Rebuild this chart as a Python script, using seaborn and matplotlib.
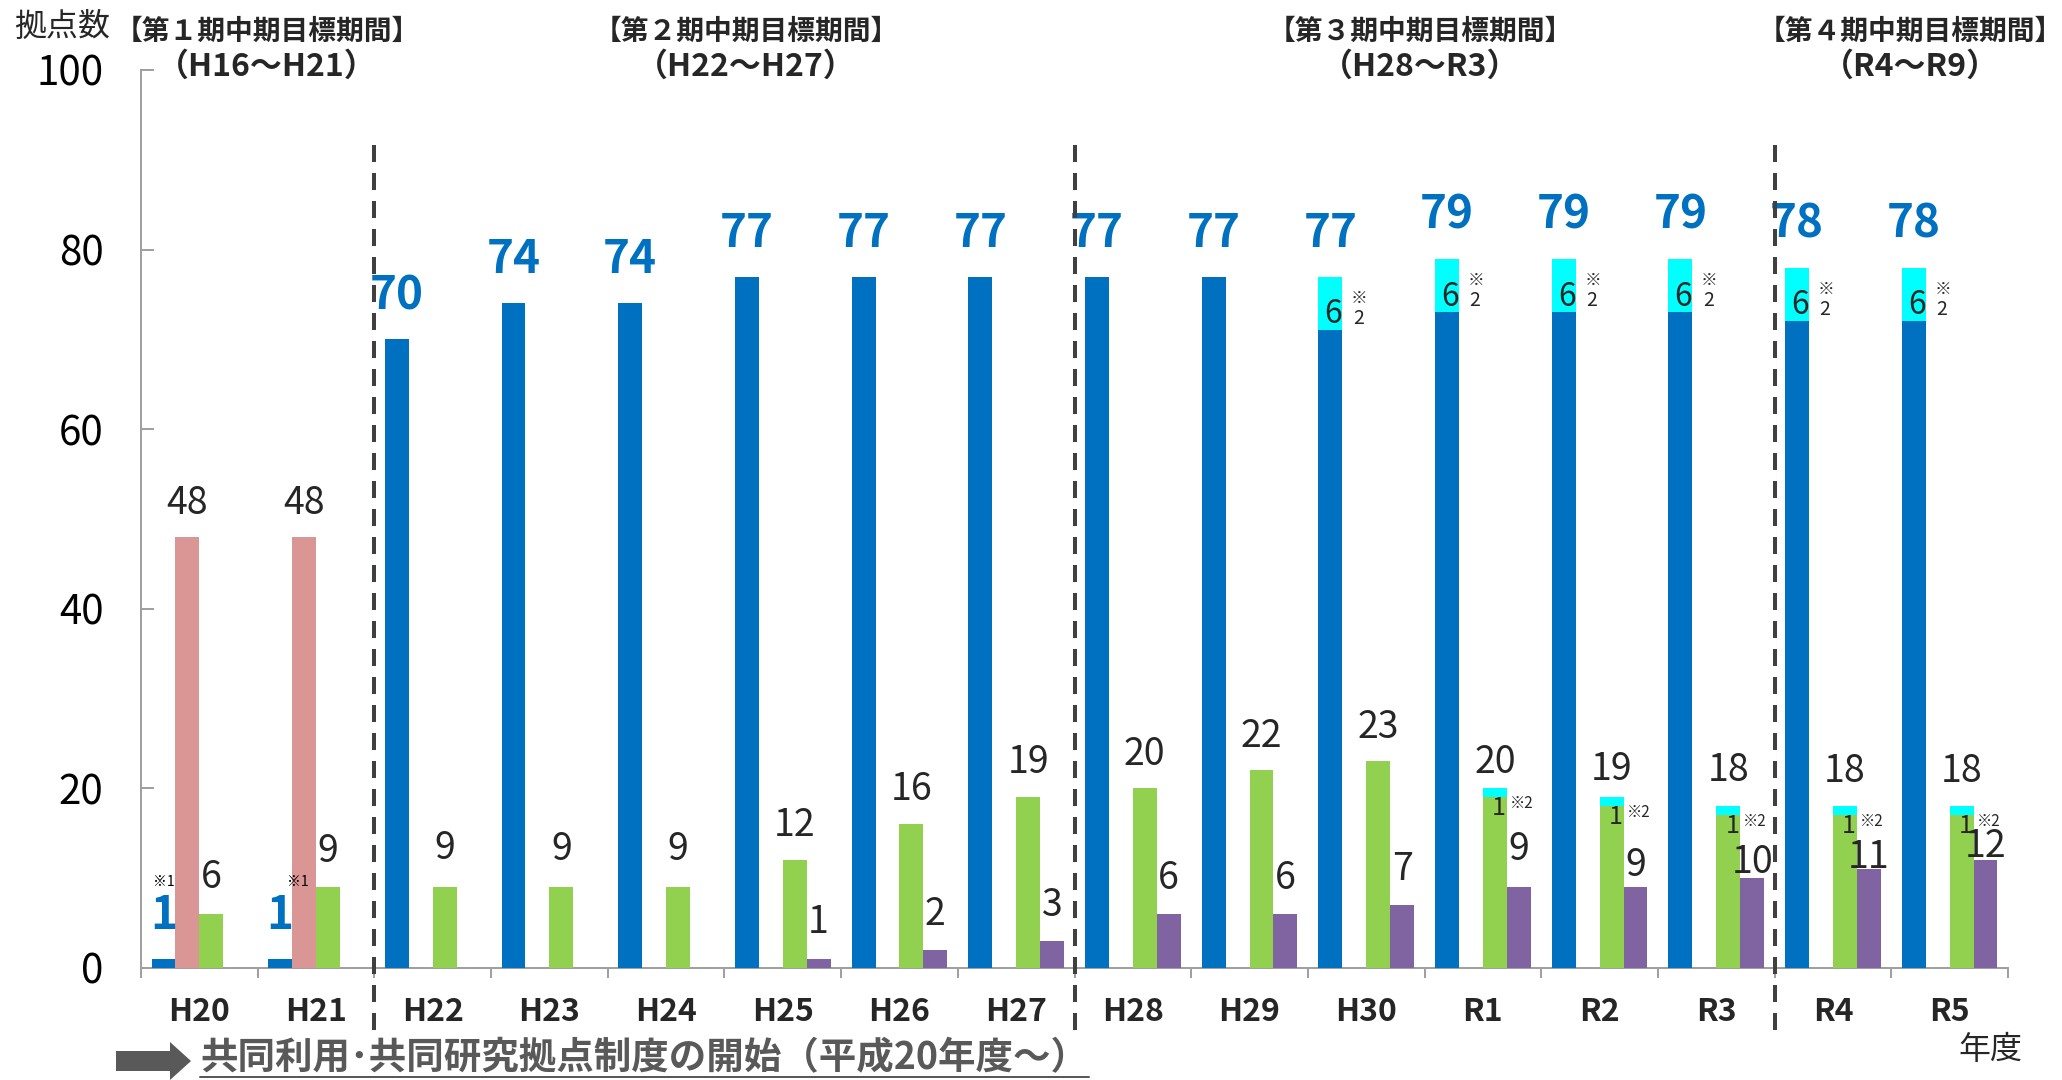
import numpy as np
import pandas as pd
import matplotlib
matplotlib.use("Agg")
import matplotlib.pyplot as plt
from matplotlib.patches import Polygon
from matplotlib.lines import Line2D
import seaborn as sns

# ---- data -------------------------------------------------------------
years = ["H20", "H21", "H22", "H23", "H24", "H25", "H26", "H27",
         "H28", "H29", "H30", "R1", "R2", "R3", "R4", "R5"]
series = ["系列1", "系列2", "系列3", "系列4"]

blue_total = [1, 1, 70, 74, 74, 77, 77, 77, 77, 77, 77, 79, 79, 79, 78, 78]
blue_extra = [0, 0, 0, 0, 0, 0, 0, 0, 0, 0, 6, 6, 6, 6, 6, 6]
pink_vals = [48, 48, 0, 0, 0, 0, 0, 0, 0, 0, 0, 0, 0, 0, 0, 0]
green_total = [6, 9, 9, 9, 9, 12, 16, 19, 20, 22, 23, 20, 19, 18, 18, 18]
green_extra = [0, 0, 0, 0, 0, 0, 0, 0, 0, 0, 0, 1, 1, 1, 1, 1]
purple_vals = [0, 0, 0, 0, 0, 1, 2, 3, 6, 6, 7, 9, 9, 10, 11, 12]

yticks = [0, 20, 40, 60, 80, 100]
period_titles = ["【第１期中期目標期間】", "【第２期中期目標期間】",
                 "【第３期中期目標期間】", "【第４期中期目標期間】"]
period_ranges = ["（H16～H21）", "（H22～H27）", "（H28～R3）", "（R4～R9）"]
period_breaks = [1.5, 7.5, 13.5]
y_label = "拠点数"
x_label = "年度"
footnote = "共同利用･共同研究拠点制度の開始（平成20年度～）"

# ---- styles ------------------------------------------------------------
BLUE = "#0070C0"
PINK = "#DA9694"
GREEN = "#92D050"
PURPLE = "#8064A2"
CYAN = "#00FFFF"
AXIS_GRAY = "#A0A0A0"
DARK = "#404040"
NOTE_GRAY = "#595959"

W, H = 2062, 1080
PT = 72 / 100  # points per pixel at dpi=100

sns.set_style("white")
plt.rcParams["font.family"] = ["Noto Sans CJK JP", "DejaVu Sans"]


def fx(x):
    return x / W


def fy(y):
    return 1 - y / H


base_vals = {
    series[0]: [t - e for t, e in zip(blue_total, blue_extra)],
    series[1]: pink_vals,
    series[2]: [t - e for t, e in zip(green_total, green_extra)],
    series[3]: purple_vals,
}
top_vals = {
    series[0]: [t if e > 0 else 0 for t, e in zip(blue_total, blue_extra)],
    series[1]: [0] * len(years),
    series[2]: [t if e > 0 else 0 for t, e in zip(green_total, green_extra)],
    series[3]: [0] * len(years),
}


def long_frame(d):
    rows = []
    for s in series:
        for y, v in zip(years, d[s]):
            rows.append({"year": y, "series": s, "value": v})
    return pd.DataFrame(rows)


df_top = long_frame(top_vals)
df_base = long_frame(base_vals)

fig = plt.figure(figsize=(W / 100, H / 100), dpi=100)
ax = fig.add_axes([fx(141), fy(968), (2008 - 141) / W, (968 - 70) / H])

BAR_W = 0.82
# stacked top segments (drawn underneath the base segments)
sns.barplot(data=df_top, x="year", y="value", hue="series", order=years,
            hue_order=series, palette=[CYAN] * 4, saturation=1, width=BAR_W,
            dodge=True, errorbar=None, legend=False, linewidth=0, ax=ax, zorder=2)
sns.barplot(data=df_base, x="year", y="value", hue="series", order=years,
            hue_order=series, palette=[BLUE, PINK, GREEN, PURPLE], saturation=1,
            width=BAR_W, dodge=True, errorbar=None, legend=False, linewidth=0,
            ax=ax, zorder=3)

base_containers = ax.containers[-4:]
centers = [[b.get_x() + b.get_width() / 2 for b in c] for c in base_containers]

ax.set_xlim(-0.5, len(years) - 0.5)
ax.set_ylim(0, 100)
ax.set_yticks(yticks)
ax.set_xlabel("")
ax.set_ylabel("")
for side in ["top", "right"]:
    ax.spines[side].set_visible(False)
for side in ["left", "bottom"]:
    ax.spines[side].set_color(AXIS_GRAY)
    ax.spines[side].set_linewidth(2 * PT)

ax.tick_params(axis="y", left=True, direction="in", length=13 * PT, width=2 * PT,
               color=AXIS_GRAY, labelsize=29, pad=27, labelcolor="black")
ax.tick_params(axis="x", which="major", length=0, labelsize=23, pad=20)
ax.set_xticks(np.arange(-0.5, len(years), 1.0), minor=True)
ax.tick_params(axis="x", which="minor", bottom=True, direction="out",
               length=10 * PT, width=2 * PT, color=AXIS_GRAY)
for lab in ax.get_xticklabels():
    lab.set_fontweight("bold")

# ---- value labels -------------------------------------------------------
green_gap = [26, 25, 28, 27, 27, 24, 24, 24, 23, 23, 23, 15, 17, 25, 24, 24]
purple_gap = [25, 25, 25, 25, 25, 26, 25, 25, 25, 25, 25, 27, 11, 5, 1, 3]
note1_dx = [0, 18]

for i in range(len(years)):
    # blue totals
    bx = centers[0][i]
    ax.annotate(str(blue_total[i]), (bx, blue_total[i]),
                xytext=(0, 30 * PT), textcoords="offset points",
                ha="center", va="baseline", fontsize=33, fontweight="bold",
                color=BLUE, zorder=5)
    if blue_total[i] < 5:
        ax.annotate("※1", (bx, blue_total[i]),
                    xytext=(note1_dx[i] * PT, 77 * PT), textcoords="offset points",
                    ha="center", va="center", fontsize=10, color="black", zorder=5)
    if blue_extra[i] > 0:
        mid = blue_total[i] - blue_extra[i] / 2
        ax.annotate(str(blue_extra[i]), (bx, mid),
                    xytext=(3 * PT, -20 * PT), textcoords="offset points",
                    ha="center", va="baseline", fontsize=23, zorder=5)
        ax.annotate("※", (bx, mid), xytext=(29 * PT, 5 * PT),
                    textcoords="offset points", ha="center", va="center",
                    fontsize=12, zorder=5)
        ax.annotate("2", (bx, mid), xytext=(28 * PT, -15 * PT),
                    textcoords="offset points", ha="center", va="center",
                    fontsize=14, zorder=5)
    # pink
    if pink_vals[i] > 0:
        ax.annotate(str(pink_vals[i]), (centers[1][i], pink_vals[i]),
                    xytext=(0, 23 * PT), textcoords="offset points",
                    ha="center", va="baseline", fontsize=27, zorder=5)
    # green
    gx = centers[2][i]
    ax.annotate(str(green_total[i]), (gx, green_total[i]),
                xytext=(0, green_gap[i] * PT), textcoords="offset points",
                ha="center", va="baseline", fontsize=27, zorder=5)
    if green_extra[i] > 0:
        gb = green_total[i] - green_extra[i]
        ax.annotate(str(green_extra[i]), (gx, gb),
                    xytext=(4 * PT, -18 * PT), textcoords="offset points",
                    ha="center", va="baseline", fontsize=18, zorder=5)
        ax.annotate("※2", (gx, gb), xytext=(15 * PT, -11 * PT),
                    textcoords="offset points", ha="left", va="baseline",
                    fontsize=11, zorder=5)
    # purple
    if purple_vals[i] > 0:
        ax.annotate(str(purple_vals[i]), (centers[3][i], purple_vals[i]),
                    xytext=(0, purple_gap[i] * PT), textcoords="offset points",
                    ha="center", va="baseline", fontsize=27, zorder=5)

# ---- period separators ------------------------------------------------
y_top = (968 - 145) / 898
y_bot = (968 - 1040) / 898
for xb in period_breaks:
    ax.plot([xb, xb], [y_top, y_bot], transform=ax.get_xaxis_transform(),
            color=DARK, lw=4 * PT, dashes=(4.25, 2.75), clip_on=False, zorder=6)

# ---- period headers -------------------------------------------------
header_x = [267, 746, 1420, 1910]
for hx, t, r in zip(header_x, period_titles, period_ranges):
    fig.text(fx(hx), fy(32), t, ha="center", va="center", fontsize=20,
             fontweight="bold")
    fig.text(fx(hx), fy(67), r, ha="center", va="center", fontsize=23,
             fontweight="bold")

fig.text(fx(14), fy(27), y_label, ha="left", va="center", fontsize=23)
fig.text(fx(1958), fy(1050), x_label, ha="left", va="center", fontsize=23)

# ---- footnote arrow and underlined text --------------------------------
arrow_px = [(116, 1051), (170, 1051), (170, 1042), (191, 1061),
            (170, 1080), (170, 1071), (116, 1071)]
fig.patches.append(Polygon([(fx(x), fy(y)) for x, y in arrow_px], closed=True,
                           transform=fig.transFigure, facecolor=NOTE_GRAY,
                           edgecolor="none"))
fig.text(fx(200), fy(1058), footnote, ha="left", va="center", fontsize=27,
         fontweight="bold", color=NOTE_GRAY)
fig.lines.append(Line2D([fx(200), fx(1089)], [fy(1077), fy(1077)],
                        transform=fig.transFigure, color=NOTE_GRAY, lw=2 * PT))

fig.savefig("out.png", dpi=100)
